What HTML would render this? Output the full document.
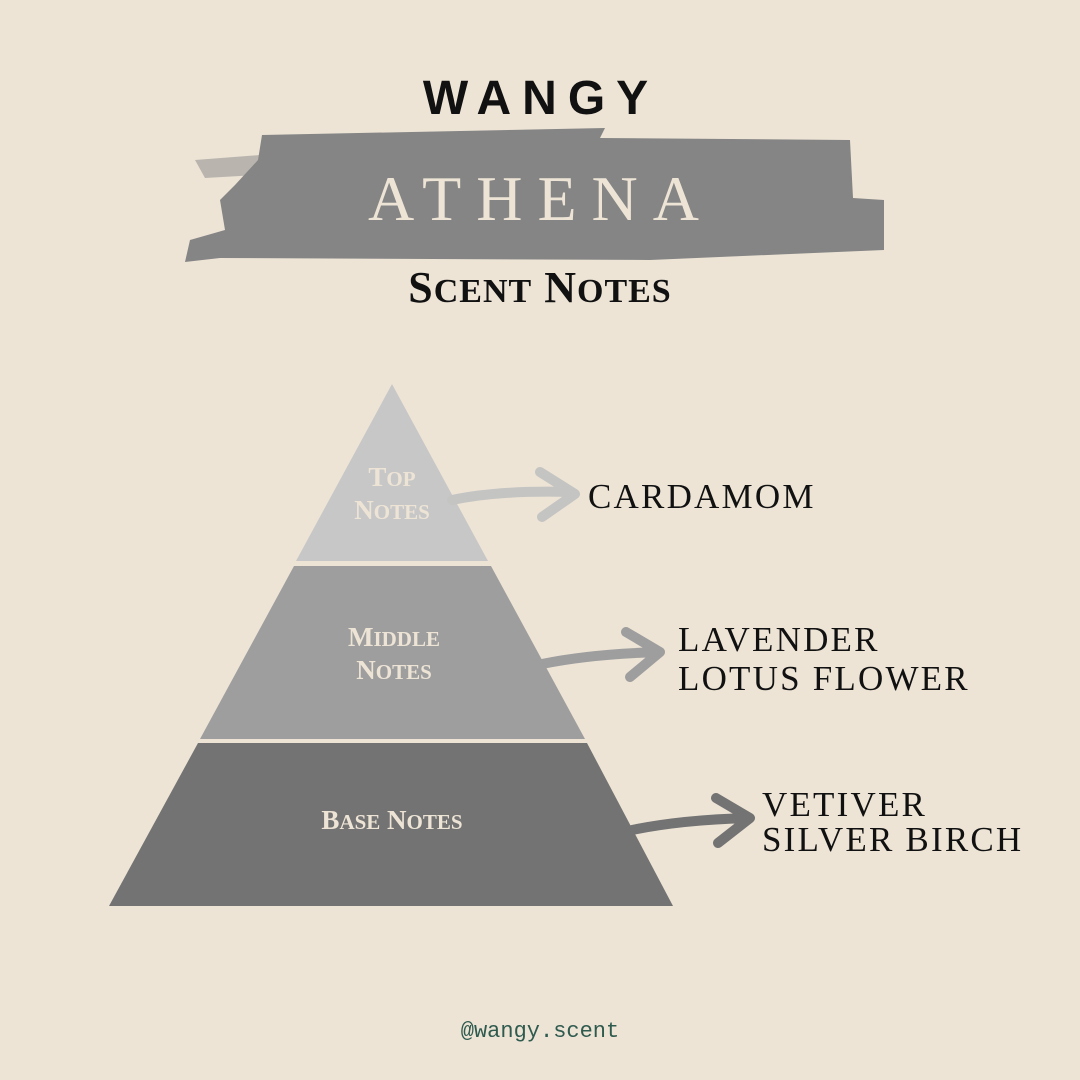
<!DOCTYPE html>
<html><head><meta charset="utf-8"><style>
body{margin:0;width:1080px;height:1080px;background:#ede4d6;overflow:hidden}
svg{display:block}
</style></head><body>
<svg width="1080" height="1080" viewBox="0 0 1080 1080" xmlns="http://www.w3.org/2000/svg">
<rect width="1080" height="1080" fill="#ede4d6"/>
<text x="541" y="114" text-anchor="middle" font-family="Liberation Sans, sans-serif" font-weight="bold" font-size="48" letter-spacing="11" fill="#111">WANGY</text>
<path d="M262,135 L605,128 L600,138 L850,140 L853,198 L884,200 L884,250 L650,260 L220,258 L185,262 L190,240 L225,230 L220,200 L235,185 L258,160 Z" fill="#858585"/>
<path d="M195,160 L260,155 L258,175 L205,178 Z" fill="#858585" opacity="0.5"/>
<text x="541" y="220" text-anchor="middle" font-family="Liberation Serif, serif" font-size="64" letter-spacing="15" fill="#ede4d6">ATHENA</text>
<text x="540" y="302" text-anchor="middle" font-family="Liberation Serif, serif" font-weight="bold" font-size="44" letter-spacing="1" fill="#111">S<tspan font-size="34">CENT</tspan> N<tspan font-size="34">OTES</tspan></text>
<polygon points="392,384 488,561 296,561" fill="#c7c7c7"/>
<polygon points="294,566 491,566 585,739 200,739" fill="#9e9e9e"/>
<polygon points="198,743 587,743 673,906 109,906" fill="#737373"/>
<g font-family="Liberation Serif, serif" font-weight="bold" fill="#ede4d6" text-anchor="middle">
<text x="392" y="486" font-size="27">T<tspan font-size="21">OP</tspan></text>
<text x="392" y="519" font-size="27">N<tspan font-size="21">OTES</tspan></text>
<text x="394" y="646" font-size="27">M<tspan font-size="21">IDDLE</tspan></text>
<text x="394" y="679" font-size="27">N<tspan font-size="21">OTES</tspan></text>
<text x="392" y="829" font-size="27">B<tspan font-size="21">ASE</tspan> N<tspan font-size="21">OTES</tspan></text>
</g>
<g fill="none" stroke-linecap="round" stroke-linejoin="round">
<path d="M452,500 Q500,490 570,492 M540,472 L575,494 L542,517" stroke="#c4c4c2" stroke-width="10"/>
<path d="M542,664 Q590,654 660,652 M626,632 L660,652 L630,677" stroke="#9e9e9e" stroke-width="10"/>
<path d="M632,830 Q680,820 748,818 M716,798 L750,818 L718,843" stroke="#737373" stroke-width="10"/>
</g>
<g font-family="Liberation Serif, serif" font-size="35" letter-spacing="2.2" fill="#111">
<text x="588" y="508">CARDAMOM</text>
<text x="678" y="651">LAVENDER</text>
<text x="678" y="690">LOTUS FLOWER</text>
<text x="762" y="816">VETIVER</text>
<text x="762" y="851">SILVER BIRCH</text>
</g>
<text x="540" y="1037" text-anchor="middle" font-family="Liberation Mono, monospace" font-size="22" fill="#2f5a4e">@wangy.scent</text>
</svg>
</body></html>
